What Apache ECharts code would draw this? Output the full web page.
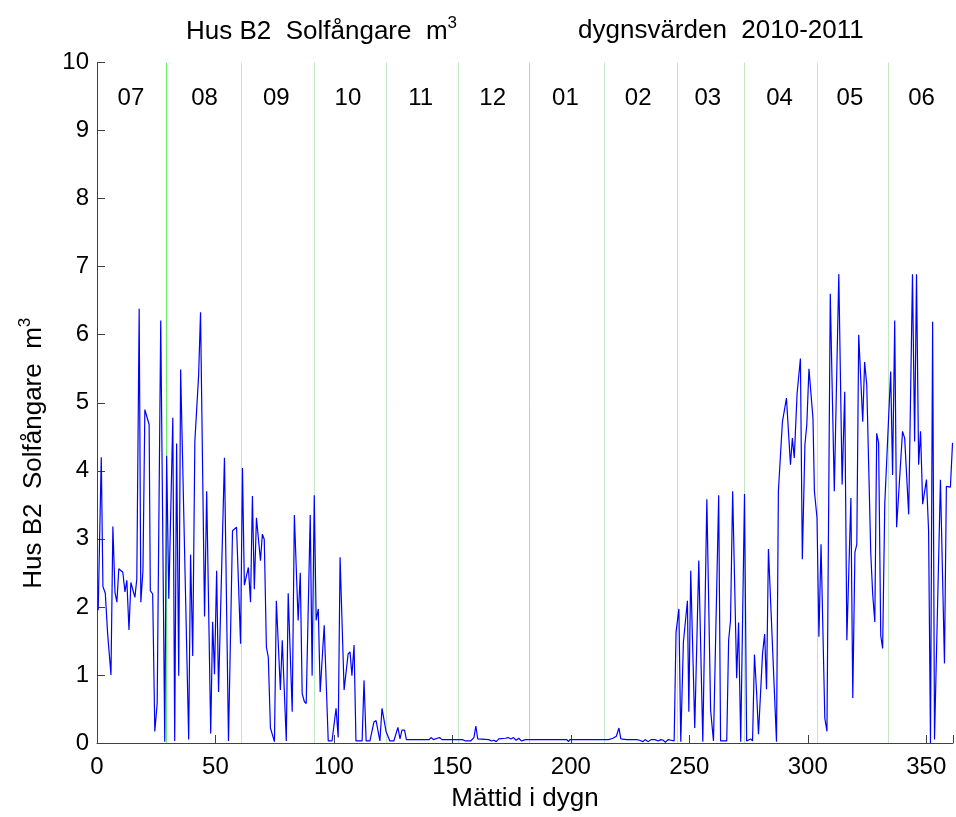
<!DOCTYPE html>
<html>
<head>
<meta charset="utf-8">
<title>Hus B2 Solfångare</title>
<script src="https://cdn.jsdelivr.net/npm/echarts@6/dist/echarts.min.js"></script>
<style>
  html, body { margin: 0; padding: 0; background: #fff; }
  #chart { width: 956px; height: 817px; }
</style>
</head>
<body>
<div id="chart"></div>
<script>
// dygn (mättid) och dygnsvärden
const dayX = [
  0.5, 1.8, 2.5, 3.5, 4.5, 5.9, 6.7, 7.6, 8.4, 9.2,
  10.9, 11.8, 12.6, 13.5, 14.3, 16, 16.8, 17.8, 18.5, 19.4,
  20.2, 22, 22.5, 23.5, 24.4, 25.4, 26.9, 28.6, 29.4, 30.3,
  32, 32.8, 33.6, 34.5, 35.3, 38.7, 39.5, 40.4, 41.3, 42.9,
  43.7, 45.4, 46.3, 48, 48.8, 49.6, 50.5, 51.3, 53.8, 55.5,
  57.2, 58.9, 60.6, 61.4, 62.2,
  63.9, 64.8, 65.6, 66.4, 67.3, 69, 69.8, 70.6, 71.5, 72.3,
  73.2, 74.9, 75.7, 77.4, 78.2, 79.9, 80.7, 82.4, 83.3, 84.9,
  85.8, 86.6, 87.5, 88.3, 90, 90.8, 91.7, 92.5, 93.4, 94.2,
  95.9, 97.6, 98.4, 99.2, 100.9, 101.8, 102.6, 104.3, 106, 106.8,
  107.6, 108.5, 109.3, 111.9, 112.7, 113.6, 115.2, 116.9, 117.8, 119.4,
  120.3, 122, 123.6, 125.3, 127, 127.9, 128.7, 129.8, 130.6, 140.2,
  141, 142, 143.6, 144.6, 145.6, 154.2, 155.6, 157.7, 159.1, 159.9,
  160.7, 165.4, 166.5, 167.5, 168.5, 169.6, 172.4, 173.6, 174.7, 175.8,
  176.9, 178, 179.1, 180.8, 198.3, 199, 199.6, 215.9, 217.8, 219.2,
  220.3, 221.1, 223.5, 227.8, 229, 230.5, 231.3, 232.7, 233.8, 235.5,
  236.9, 238, 239, 239.9, 241, 242.3, 243.6,
  244.4, 245.6, 246.4, 247.5, 249.2, 249.8, 250.6, 252.3, 254, 255.7,
  257.4, 259, 260.2, 261, 262.4, 263.2, 265.8, 266.6, 267.4, 268.3,
  270, 270.8, 271.7, 273.3, 274.2, 275, 275.9, 276.7, 277.5, 278.4,
  279.2, 280.9, 281.8, 282.6, 283.4, 286.8, 287.6, 289.3, 291, 292.7,
  293.5, 294.3, 295.5, 296.9, 297.7, 298.8, 299.6, 300.5, 302.2, 302.8,
  303.9, 304.7, 305.6, 307.2, 308.1, 309.5, 311.2, 313.1, 314.5, 315.6,
  316.5, 318.2, 319, 319.9, 320.7, 321.5, 323.2, 324, 324.9, 326.6,
  327.4, 328.3, 329.1, 329.9, 330.8, 331.6, 332.5, 335, 335.8, 336.7,
  337.5, 340, 340.9, 342.6, 344.2, 345.1, 345.9, 346.8, 347.6, 348.5,
  350.1, 351, 351.8, 352.7, 353.5, 356, 357.7, 358.5, 360.2, 361.1
];
const flowM3 = [
  1.95, 4.2, 2.3, 2.2, 1.6, 1.0, 3.18, 2.21, 2.07, 2.56,
  2.51, 2.22, 2.39, 1.66, 2.36, 2.14, 2.41, 6.38, 2.07, 2.53,
  4.9, 4.68, 2.24, 2.19, 0.17, 0.58, 6.21, 0.02, 4.22, 2.12,
  4.78, 0.03, 4.4, 0.99, 5.49, 0.05, 2.77, 1.28, 4.43, 5.41,
  6.33, 1.86, 3.7, 0.14, 1.78, 1.01, 2.53, 0.75, 4.19, 0.03,
  3.12, 3.17, 1.46, 4.04, 2.32,
  2.58, 2.07, 3.63, 2.26, 3.31, 2.68, 3.07, 2.99, 1.41, 1.26,
  0.22, 0.02, 2.09, 0.78, 1.51, 0.03, 2.2, 0.46, 3.35, 1.8,
  2.5, 0.73, 0.61, 0.58, 3.35, 0.99, 3.64, 1.8, 1.97, 0.75,
  1.73, 0.03, 0.05, 0.03, 0.51, 0.08, 2.73, 0.78, 1.31, 1.34,
  0.99, 1.44, 0.03, 0.03, 0.92, 0.03, 0.03, 0.31, 0.33, 0.03,
  0.51, 0.17, 0.03, 0.03, 0.23, 0.06, 0.19, 0.19, 0.05, 0.05,
  0.08, 0.05, 0.07, 0.08, 0.05, 0.05, 0.03, 0.03, 0.08, 0.25,
  0.06, 0.05, 0.03, 0.04, 0.02, 0.06, 0.07, 0.08, 0.06, 0.08,
  0.04, 0.07, 0.03, 0.05, 0.05, 0.02, 0.05, 0.05, 0.07, 0.1,
  0.22, 0.06, 0.05, 0.05, 0.04, 0.02, 0.05, 0.02, 0.05, 0.05,
  0.03, 0.05, 0.04, 0.01, 0.05, 0.04, 0.03,
  1.63, 1.97, 0.02, 1.48, 2.09, 0.46, 2.53, 0.22, 2.68, 0.02,
  3.58, 0.48, 0.03, 0.03, 3.64, 0.03, 0.03, 1.51, 1.8, 3.7,
  0.95, 1.77, 0.02, 3.66, 0.03, 0.05, 0.06, 0.03, 1.3, 0.75,
  0.13, 1.31, 1.6, 0.79, 2.85, 0.02, 3.7, 4.72, 5.07, 4.09,
  4.48, 4.19, 5.14, 5.65, 2.7, 4.38, 4.68, 5.5, 4.77, 3.7,
  3.31, 1.56, 2.92, 0.36, 0.17, 6.6, 3.7, 6.89, 3.8, 5.16,
  1.51, 3.6, 0.66, 2.8, 2.92, 6.0, 4.72, 5.6, 5.26, 2.78,
  2.19, 1.78, 4.55, 4.41, 1.58, 1.39, 3.51, 5.46, 3.94, 6.21,
  3.17, 4.58, 4.48, 3.36, 6.89, 4.43, 6.89, 4.09, 4.58, 3.51,
  3.87, 3.12, 0, 6.19, 0.05, 3.87, 1.17, 3.77, 3.76, 4.41
];

// månadsgränser (dygn) och månadsetiketter
const monthStart = [29.4, 60.8, 91.9, 122, 152.5, 182.6, 214, 245, 273, 304, 334];
const monthNames = ['07', '08', '09', '10', '11', '12', '01', '02', '03', '04', '05', '06'];
const monthLabelX = [14.3, 45.4, 75.7, 105.9, 136.6, 167, 197.7, 228.4, 257.8, 288.1, 317.8, 348];
const monthLabelY = 9.48;

const FONT = '"Liberation Sans", Arial, sans-serif';
const FS = 24;        // tick- och månadsetiketter
const NAME_FS = 26;   // rubriker och axelnamn

let chart = echarts.init(document.getElementById('chart'));

// gränslinjer: första grön, nyår röd, övriga ljusgröna
let boundaryLines = monthStart.map((d, i) => {
  let color = '#c2e6c2';
  if (i === 0) color = '#66ee66';
  if (i === 5) color = '#f0b8b8';
  return { xAxis: d, lineStyle: { color: color, width: 1, type: 'solid' } };
});

function supRich(fs) {
  return {
    n: { fontFamily: FONT, fontSize: fs, fontWeight: 'normal', color: '#000', verticalAlign: 'bottom', lineHeight: 30, padding: [7, 0, 0, 0] },
    s: { fontFamily: FONT, fontSize: 17, fontWeight: 'normal', color: '#000', verticalAlign: 'top', lineHeight: 17 }
  };
}

let option = {
  animation: false,
  backgroundColor: '#fff',
  title: [
    {
      text: '{n|Hus B2  Solfångare  m}{s|3}',
      left: 186,
      top: 15,
      padding: 0,
      textStyle: { fontWeight: 'normal', rich: supRich(NAME_FS) }
    },
    {
      text: 'dygnsvärden  2010-2011',
      left: 578,
      top: 18,
      padding: 0,
      textStyle: { fontFamily: FONT, fontSize: NAME_FS, fontWeight: 'normal', color: '#000' }
    }
  ],
  grid: { left: 97, right: 0, top: 62.5, bottom: 70.5, containLabel: false },
  xAxis: {
    type: 'value',
    min: 0,
    max: 361.3,
    interval: 50,
    name: 'Mättid i dygn',
    nameLocation: 'middle',
    nameGap: 43,
    nameTextStyle: { fontFamily: FONT, fontSize: NAME_FS, color: '#000' },
    axisLine: { show: true, lineStyle: { color: '#404040', width: 1 } },
    axisTick: { show: true, inside: true, length: 8, lineStyle: { color: '#404040' } },
    axisLabel: {
      fontFamily: FONT, fontSize: FS, color: '#000', margin: 12,
      formatter: v => (v % 50 === 0 ? String(v) : '')
    },
    splitLine: { show: false }
  },
  yAxis: {
    type: 'value',
    min: 0,
    max: 10,
    interval: 1,
    name: '{n|Hus B2  Solfångare  m}{s|3}',
    nameLocation: 'middle',
    nameGap: 50,
    nameRotate: 90,
    nameTextStyle: { rich: supRich(NAME_FS), padding: [0, 101, 0, 0] },
    axisLine: { show: true, lineStyle: { color: '#404040', width: 1 } },
    axisTick: { show: true, inside: true, length: 8, lineStyle: { color: '#404040' } },
    axisLabel: { fontFamily: FONT, fontSize: FS, color: '#000', margin: 8 },
    splitLine: { show: false }
  },
  series: [
    {
      name: 'Solfångare',
      type: 'line',
      data: dayX.map((d, i) => [d, flowM3[i]]),
      showSymbol: false,
      symbol: 'none',
      lineStyle: { color: '#0000ff', width: 1.2 },
      z: 3,
      markLine: {
        silent: true,
        symbol: 'none',
        label: { show: false },
        data: boundaryLines,
        z: 1
      }
    },
    {
      name: 'Månad',
      type: 'scatter',
      symbolSize: 0,
      itemStyle: { opacity: 1 },
      data: monthLabelX.map((x, i) => [x, monthLabelY, monthNames[i]]),
      label: {
        show: true,
        position: 'inside',
        formatter: p => p.data[2],
        fontFamily: FONT,
        fontSize: FS,
        color: '#000',
        opacity: 1
      },
      silent: true
    }
  ]
};

chart.setOption(option);
</script>
</body>
</html>
